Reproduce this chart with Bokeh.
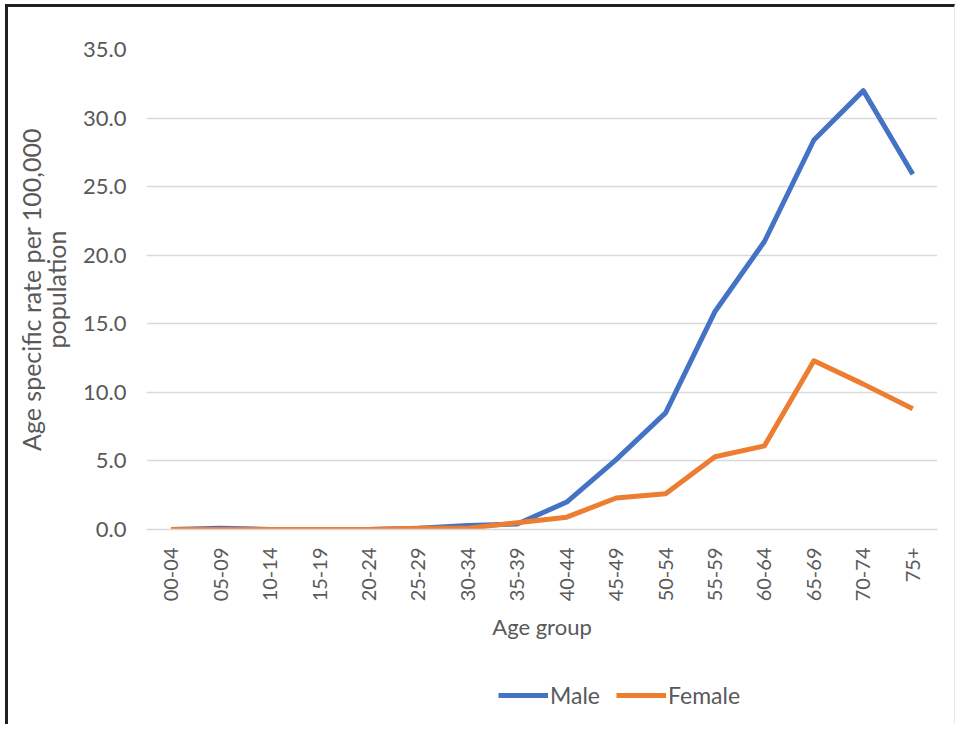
import math
from bokeh.plotting import figure
from bokeh.layouts import column
from bokeh.models import Legend, LegendItem, FixedTicker, Range1d
from bokeh.embed import file_html
from bokeh.resources import INLINE

age_groups = ["00-04", "05-09", "10-14", "15-19", "20-24", "25-29", "30-34", "35-39",
              "40-44", "45-49", "50-54", "55-59", "60-64", "65-69", "70-74", "75+"]
male = [0.0, 0.1, 0.0, 0.0, 0.0, 0.1, 0.3, 0.4, 2.0, 5.1, 8.5, 15.9, 21.0, 28.4, 32.0, 25.9]
female = [0.0, 0.0, 0.0, 0.0, 0.0, 0.1, 0.1, 0.5, 0.9, 2.3, 2.6, 5.3, 6.1, 12.3, 10.6, 8.8]
y_ticks = [0, 5, 10, 15, 20, 25, 30, 35]

FONT = "Lato"
TXT = "#595959"
MALE_C = "#4472C4"
FEMALE_C = "#ED7D31"

# ---- main chart ----
p = figure(x_range=age_groups, y_range=Range1d(0, 35),
           width=950, height=650, output_backend="svg", toolbar_location=None,
           min_border_left=138, min_border_right=21, min_border_top=42, min_border_bottom=128)
p.styles = {"border-left": "3px solid #231f20", "border-top": "3px solid #231f20",
            "border-right": "1px solid #e6e6e6", "margin-left": "5px", "margin-top": "4px"}
p.outline_line_color = None
p.background_fill_color = "white"
p.border_fill_color = "white"

p.xgrid.grid_line_color = None
p.ygrid.grid_line_color = "#d9d9d9"
p.ygrid.grid_line_width = 1.5

p.yaxis.ticker = FixedTicker(ticks=y_ticks)
p.yaxis.major_label_overrides = {t: f"{t:.1f}" for t in y_ticks}
p.yaxis.axis_line_color = None
p.yaxis.major_tick_line_color = None
p.yaxis.minor_tick_line_color = None
p.yaxis.major_label_standoff = 14
p.yaxis.major_label_text_font_size = "22px"
p.yaxis.axis_label = "Age specific rate per 100,000\npopulation"
p.yaxis.axis_label_standoff = 9
p.yaxis.axis_label_text_font_size = "25px"
p.yaxis.axis_label_text_line_height = 0.85

p.xaxis.axis_line_color = "#d9d9d9"
p.xaxis.axis_line_width = 1.5
p.xaxis.major_tick_line_color = None
p.xaxis.minor_tick_line_color = None
p.xaxis.major_label_orientation = math.pi / 2
p.xaxis.major_label_standoff = 12
p.xaxis.major_label_text_font_size = "20px"
p.xaxis.axis_label = "Age group"
p.xaxis.axis_label_standoff = 9
p.xaxis.axis_label_text_font_size = "22px"

for ax in (p.xaxis[0], p.yaxis[0]):
    ax.major_label_text_font = FONT
    ax.major_label_text_color = TXT
    ax.axis_label_text_font = FONT
    ax.axis_label_text_font_style = "normal"
    ax.axis_label_text_color = TXT

p.line(age_groups, male, line_color=MALE_C, line_width=5, line_join="round")
p.line(age_groups, female, line_color=FEMALE_C, line_width=5, line_join="round")

# ---- legend strip below the chart ----
p2 = figure(x_range=p.x_range, y_range=Range1d(-100, -90),
            width=950, height=70, output_backend="svg", toolbar_location=None,
            x_axis_location=None, y_axis_location=None,
            min_border=0, min_border_left=0, min_border_right=0,
            min_border_top=0, min_border_bottom=0)
p2.styles = {"border-left": "3px solid #231f20", "border-right": "1px solid #e6e6e6",
             "margin-left": "5px"}
p2.outline_line_color = None
p2.background_fill_color = "white"
p2.border_fill_color = "white"
p2.xgrid.grid_line_color = None
p2.ygrid.grid_line_color = None

# same series, outside this strip's visible range: only their legend swatches show
lm = p2.line(age_groups, male, line_color=MALE_C, line_width=5)
lf = p2.line(age_groups, female, line_color=FEMALE_C, line_width=5)

legend = Legend(items=[LegendItem(label="Male", renderers=[lm]),
                       LegendItem(label="Female", renderers=[lf])],
                orientation="horizontal", location=(352, 15),
                glyph_width=50, glyph_height=20, label_standoff=2, spacing=16,
                padding=0, margin=0, border_line_color=None, background_fill_alpha=0,
                label_text_font=FONT, label_text_font_size="23px", label_text_color=TXT)
p2.add_layout(legend)

layout = column(p, p2, spacing=0)
open("out.html", "w").write(file_html(layout, INLINE))
